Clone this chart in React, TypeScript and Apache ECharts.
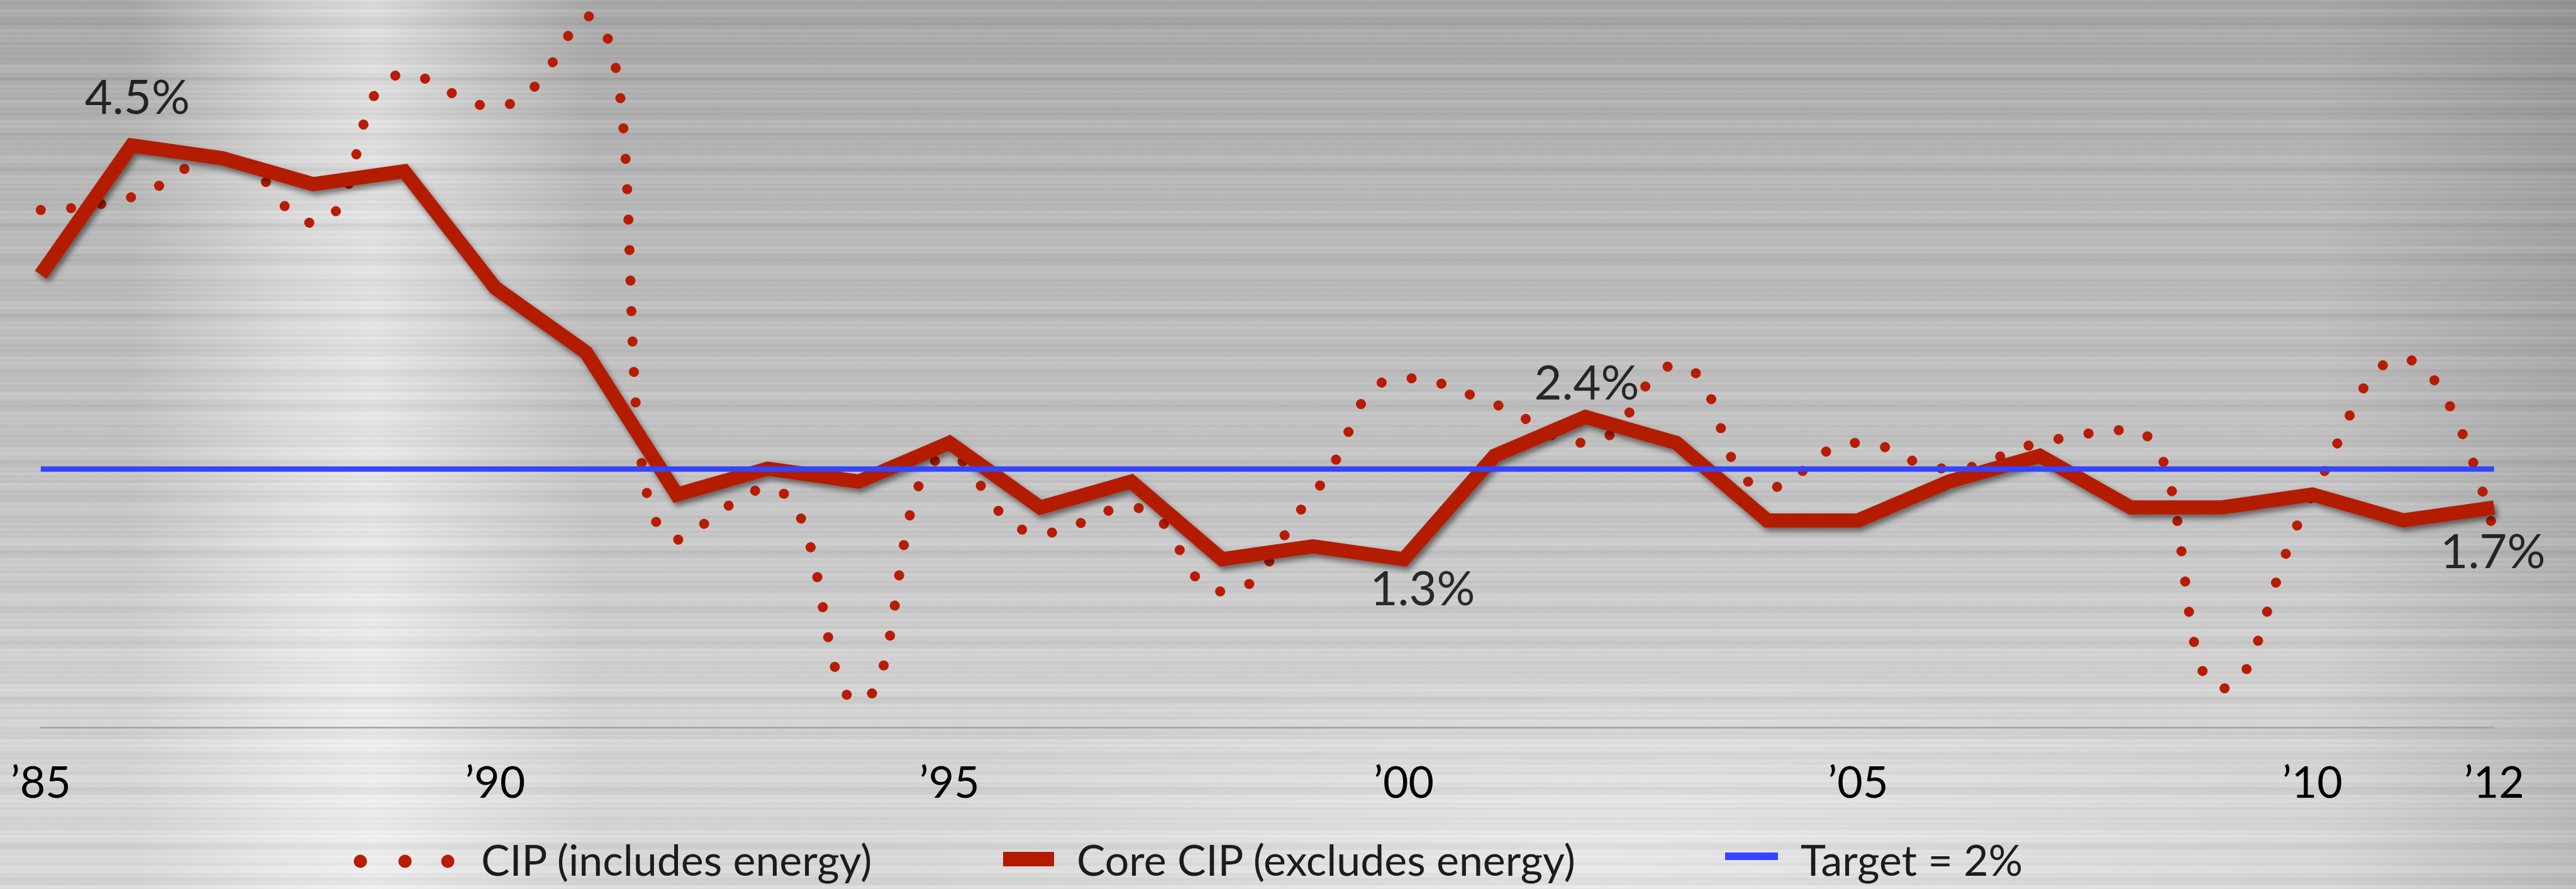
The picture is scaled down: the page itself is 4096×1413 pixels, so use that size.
import React, { useEffect, useRef } from "react";
import * as echarts from "echarts";

// Annual inflation, 1985–2012 (per cent)
const years = [
  1985, 1986, 1987, 1988, 1989, 1990, 1991, 1992, 1993, 1994, 1995, 1996, 1997, 1998,
  1999, 2000, 2001, 2002, 2003, 2004, 2005, 2006, 2007, 2008, 2009, 2010, 2011, 2012,
];
const cipAll = [
  4.0, 4.1, 4.4, 3.9, 5.05, 4.8, 5.5, 1.45, 1.85, 0.2, 2.1, 1.5, 1.7, 1.05,
  1.8, 2.7, 2.5, 2.2, 2.8, 1.85, 2.2, 2.0, 2.2, 2.3, 0.3, 1.8, 2.85, 1.5,
];
const cipCore = [
  3.5, 4.5, 4.4, 4.2, 4.3, 3.4, 2.9, 1.8, 2.0, 1.9, 2.2, 1.7, 1.9, 1.3,
  1.4, 1.3, 2.1, 2.4, 2.2, 1.6, 1.6, 1.9, 2.1, 1.7, 1.7, 1.8, 1.6, 1.7,
];
const targetRate = 2;
const tickYears = [1985, 1990, 1995, 2000, 2005, 2010, 2012];
const annotatedYears = [1986, 2000, 2002, 2012];
const legendLabels = ["CIP (includes energy)", "Core CIP (excludes energy)", "Target = 2%"];

// Styling
const W = 4096;
const H = 1413;
const FONT = 'Lato, "Open Sans", sans-serif';
const RED = "#b41a00";
const RED_DOT = "#b81c02";
const BLUE = "#3444ff";

// Pixel offsets of the value call-outs from their points
const annotationOffsets: Record<number, [number, number]> = {
  1986: [9, -80],
  2000: [30, 44],
  2002: [2, -57],
  2012: [-2, 67],
};

const brushedMetal = [
  "repeating-linear-gradient(180deg, rgba(255,255,255,0.06) 0px, rgba(255,255,255,0) 3px, rgba(0,0,0,0.03) 5px, rgba(255,255,255,0) 8px)",
  "repeating-linear-gradient(180deg, rgba(0,0,0,0) 0px, rgba(0,0,0,0.035) 11px, rgba(255,255,255,0.05) 17px, rgba(0,0,0,0) 29px)",
  "repeating-linear-gradient(180deg, rgba(255,255,255,0) 0px, rgba(255,255,255,0.05) 19px, rgba(0,0,0,0.035) 31px, rgba(255,255,255,0) 47px)",
  "linear-gradient(90deg, rgba(255,255,255,0) 5%, rgba(255,255,255,0.45) 11%, rgba(255,255,255,0.62) 14.5%, rgba(255,255,255,0.4) 17.5%, rgba(255,255,255,0) 23%)",
  "radial-gradient(ellipse 28% 22% at 62% 96%, rgba(255,255,255,0.45), rgba(255,255,255,0))",
  "linear-gradient(90deg, rgba(0,0,0,0) 90%, rgba(0,0,0,0.13) 100%)",
  "linear-gradient(180deg, rgba(0,0,0,0.08) 0%, rgba(0,0,0,0) 22%)",
  "linear-gradient(180deg, #b6b6b6 0%, #bcbcbc 30%, #c7c7c7 55%, #d5d5d5 78%, #dcdcdc 100%)",
].join(", ");

export default function App() {
  const ref = useRef<HTMLDivElement>(null);

  useEffect(() => {
    if (!ref.current) return;
    const chart = echarts.init(ref.current, null, { renderer: "svg" });

    const annotations = annotatedYears.map((yr) => ({
      value: [String(yr), cipCore[years.indexOf(yr)]],
      label: { offset: annotationOffsets[yr] },
    }));

    const legendY = 1365;
    const legendFont = { fontFamily: FONT, fontSize: 68, fill: "#1c1c1c" };

    chart.setOption({
      animation: false,
      backgroundColor: "transparent",
      grid: { left: 64.8, right: 130.2, top: 5, bottom: 257, containLabel: false },
      xAxis: {
        type: "category",
        data: years.map(String),
        boundaryGap: false,
        axisLine: { show: true, lineStyle: { color: "#a3a3a3", width: 2.6 } },
        axisTick: { show: false },
        splitLine: { show: false },
        axisLabel: {
          interval: (_i: number, v: string) => tickYears.includes(Number(v)),
          formatter: (v: string) => "\u2019" + v.slice(2),
          fontFamily: FONT,
          fontSize: 70,
          color: "#000",
          margin: 85,
          verticalAlign: "middle",
        },
      },
      yAxis: { type: "value", min: 0, max: 5.6, show: false },
      series: [
        {
          name: legendLabels[0],
          type: "line",
          data: cipAll,
          smooth: 0.5,
          showSymbol: false,
          clip: false,
          silent: true,
          z: 2,
          lineStyle: { color: RED_DOT, width: 16, type: [0.01, 48.4], cap: "round" },
        },
        {
          name: legendLabels[1],
          type: "line",
          data: cipCore,
          showSymbol: false,
          clip: false,
          silent: true,
          z: 3,
          lineStyle: {
            color: RED,
            width: 22.5,
            join: "miter",
            cap: "butt",
            shadowColor: "rgba(0,0,0,0.5)",
            shadowBlur: 10,
            shadowOffsetX: 4,
            shadowOffsetY: 6,
          },
        },
        {
          name: legendLabels[2],
          type: "line",
          data: [],
          silent: true,
          z: 4,
          markLine: {
            silent: true,
            z: 4,
            symbol: ["none", "none"],
            label: { show: false },
            lineStyle: { color: BLUE, width: 8.6, type: "solid" },
            emphasis: { disabled: true },
            data: [{ yAxis: targetRate }],
          },
        },
        {
          type: "scatter",
          data: annotations,
          symbolSize: 1,
          silent: true,
          z: 5,
          itemStyle: { color: "rgba(0,0,0,0)" },
          label: {
            show: true,
            position: "inside",
            formatter: (p: any) => `${Number(p.value[1]).toFixed(1)}%`,
            fontFamily: FONT,
            fontSize: 76,
            color: "#000",
          },
        },
      ],
      graphic: [
        { type: "circle", shape: { cx: 573, cy: 1369, r: 10.5 }, style: { fill: RED_DOT } },
        { type: "circle", shape: { cx: 644, cy: 1369, r: 10.5 }, style: { fill: RED_DOT } },
        { type: "circle", shape: { cx: 712, cy: 1369, r: 10.5 }, style: { fill: RED_DOT } },
        {
          type: "text",
          style: { ...legendFont, text: legendLabels[0], x: 765, y: legendY, align: "left", verticalAlign: "middle" },
        },
        { type: "rect", shape: { x: 1595, y: 1354, width: 81, height: 23 }, style: { fill: RED } },
        {
          type: "text",
          style: { ...legendFont, text: legendLabels[1], x: 1712, y: legendY, align: "left", verticalAlign: "middle" },
        },
        { type: "rect", shape: { x: 2743, y: 1355, width: 84, height: 12 }, style: { fill: BLUE } },
        {
          type: "text",
          style: { ...legendFont, text: legendLabels[2], x: 2863, y: legendY, align: "left", verticalAlign: "middle" },
        },
      ],
    });

    return () => chart.dispose();
  }, []);

  return (
    <div
      ref={ref}
      style={{
        position: "fixed",
        left: 0,
        top: 0,
        width: W,
        height: H,
        background: brushedMetal,
      }}
    />
  );
}
